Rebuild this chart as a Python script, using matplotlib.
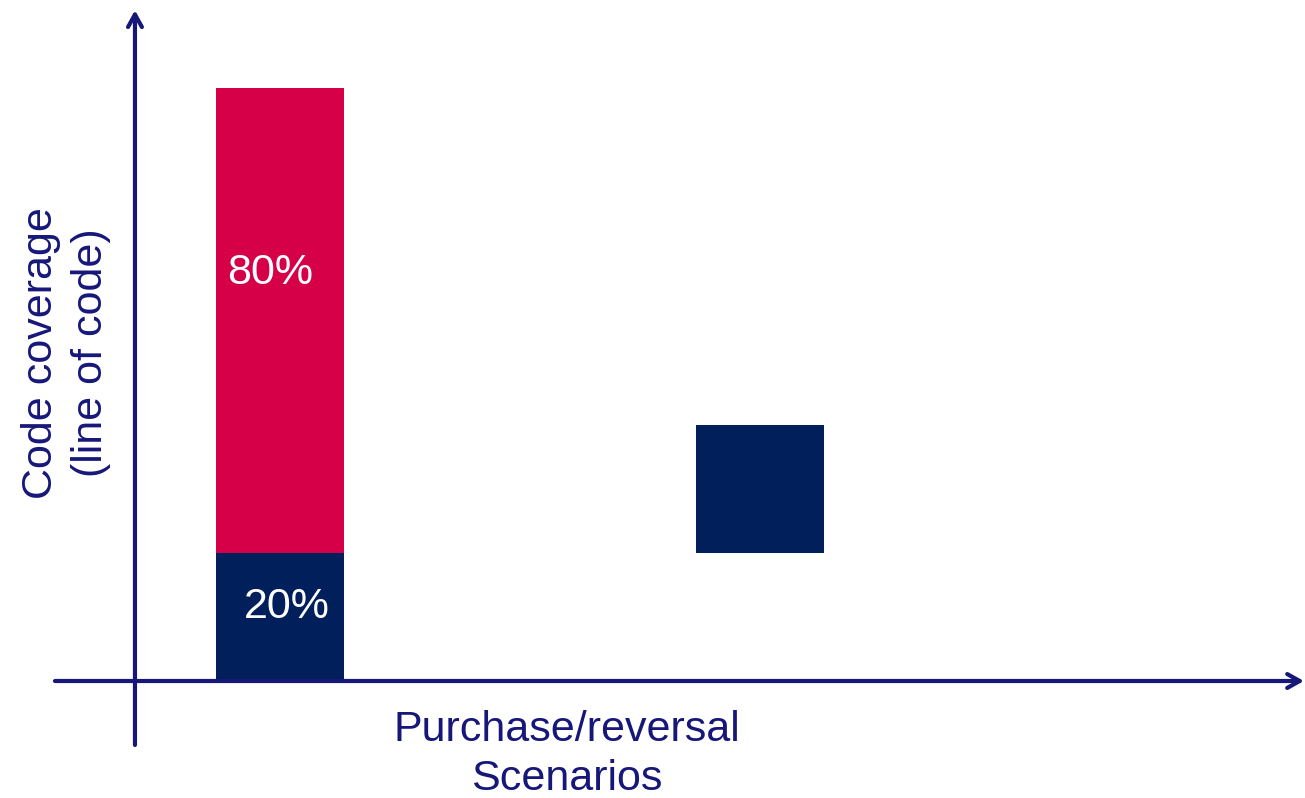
import matplotlib.pyplot as plt

plt.rcParams['font.family'] = ['Liberation Sans', 'DejaVu Sans']

# data (conceptual diagram units)
scenarios = [1.0, 4.75]
navy_bottom = [0, 20]
navy_height = [20, 20]
red_bottom = [20]
red_height = [72.7]
labels = ["80%", "20%"]

red = '#D50048'
navy = '#001F5B'
ink = '#17177A'

fig = plt.figure(figsize=(13.05, 7.98), dpi=100)
ax = fig.add_axes([0, 0, 1, 1])
ax.set_xlim(-1.1875, 9.0078)
ax.set_ylim(-18.28, 106.4)
ax.axis('off')

# bars
ax.bar(scenarios[:1], red_height, bottom=red_bottom, width=1.0, color=red, zorder=2)
ax.bar(scenarios, navy_height, bottom=navy_bottom, width=1.0, color=navy, zorder=3)

# labels on first bar
ax.text(0.92, 63.8, labels[0], color='white', fontsize=31, ha='center', va='center', zorder=4)
ax.text(1.05, 11.6, labels[1], color='white', fontsize=31, ha='center', va='center', zorder=4)

# axes arrows
yaxis_x = -0.133
arrow = dict(arrowstyle='->,head_length=0.9,head_width=0.5', color=ink, lw=3,
             shrinkA=0, shrinkB=0)
ax.annotate('', xy=(yaxis_x, 104.8), xytext=(yaxis_x, -10), arrowprops=arrow, zorder=1)
ax.annotate('', xy=(9.0, 0), xytext=(-0.758, 0), arrowprops=arrow, zorder=5,
            annotation_clip=False)

# axis titles
ax.text(-0.675, 51.3, "Code coverage\n(line of code)", rotation=90, color=ink,
        fontsize=31, ha='center', va='center', linespacing=1.32)
ax.text(3.24, -11.5, "Purchase/reversal\nScenarios", color=ink,
        fontsize=31, ha='center', va='center', linespacing=1.28)

fig.savefig('out.png', dpi=100)
